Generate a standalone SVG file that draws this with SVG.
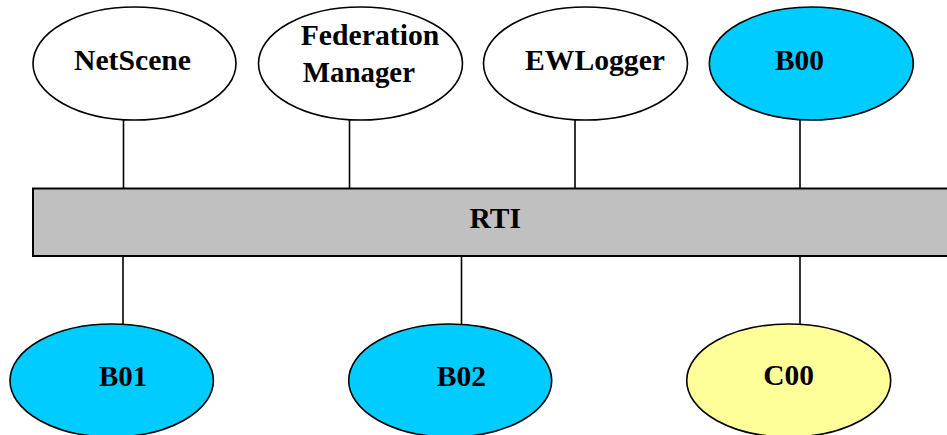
<svg xmlns="http://www.w3.org/2000/svg" width="947" height="435" viewBox="0 0 947 435">
  <style>
    .node { stroke: #000; stroke-width: 1.6; }
    .plain { fill: #ffffff; }
    .fed { fill: #00ccff; }
    .cmp { fill: #ffff99; }
    .bus { fill: #c0c0c0; stroke: #000; stroke-width: 2; }
    .link { stroke: #000; stroke-width: 1.6; fill: none; }
    .label { font-family: "Liberation Serif", "Times New Roman", serif; font-weight: bold; font-size: 29px; fill: #000; }
  </style>

  <!-- connectors between the federates and the RTI bus -->
  <g id="connectors">
    <line class="link" x1="123.5" y1="120" x2="123.5" y2="188"/>
    <line class="link" x1="349.5" y1="120" x2="349.5" y2="188"/>
    <line class="link" x1="575" y1="120" x2="575" y2="188"/>
    <line class="link" x1="800" y1="120" x2="800" y2="188"/>
    <line class="link" x1="123" y1="256" x2="123" y2="324"/>
    <line class="link" x1="461.5" y1="256" x2="461.5" y2="324"/>
    <line class="link" x1="800" y1="256" x2="800" y2="324"/>
  </g>

  <g id="rti">
    <rect class="bus" x="33" y="188.5" width="920" height="67.5"/>
    <text class="label" x="469.5" y="227.5" textLength="51.5" lengthAdjust="spacingAndGlyphs">RTI</text>
  </g>

  <g id="netscene">
    <ellipse class="node plain" cx="134.5" cy="63.5" rx="101.5" ry="56.5"/>
    <text class="label" x="74" y="69.5" textLength="117" lengthAdjust="spacingAndGlyphs">NetScene</text>
  </g>

  <g id="federation-manager">
    <ellipse class="node plain" cx="360.5" cy="63.5" rx="102" ry="56.5"/>
    <text class="label" x="300.7" y="45" textLength="138.6" lengthAdjust="spacingAndGlyphs">Federation</text>
    <text class="label" x="302.7" y="81.5" textLength="112.3" lengthAdjust="spacingAndGlyphs">Manager</text>
  </g>

  <g id="ewlogger">
    <ellipse class="node plain" cx="585.5" cy="63.5" rx="102" ry="56.5"/>
    <text class="label" x="525" y="69.5" textLength="140" lengthAdjust="spacingAndGlyphs">EWLogger</text>
  </g>

  <g id="b00">
    <ellipse class="node fed" cx="811.3" cy="63.5" rx="102" ry="56.5"/>
    <text class="label" x="775" y="69.5" textLength="49" lengthAdjust="spacingAndGlyphs">B00</text>
  </g>

  <g id="b01">
    <ellipse class="node fed" cx="111.7" cy="380.5" rx="101.7" ry="56.5"/>
    <text class="label" x="99" y="385.5" textLength="48.3" lengthAdjust="spacingAndGlyphs">B01</text>
  </g>

  <g id="b02">
    <ellipse class="node fed" cx="450.2" cy="380.5" rx="101.5" ry="56.5"/>
    <text class="label" x="436.7" y="385.5" textLength="49.3" lengthAdjust="spacingAndGlyphs">B02</text>
  </g>

  <g id="c00">
    <ellipse class="node cmp" cx="788.7" cy="380.5" rx="102" ry="56.5"/>
    <text class="label" x="763.3" y="385" textLength="50.7" lengthAdjust="spacingAndGlyphs">C00</text>
  </g>
</svg>
